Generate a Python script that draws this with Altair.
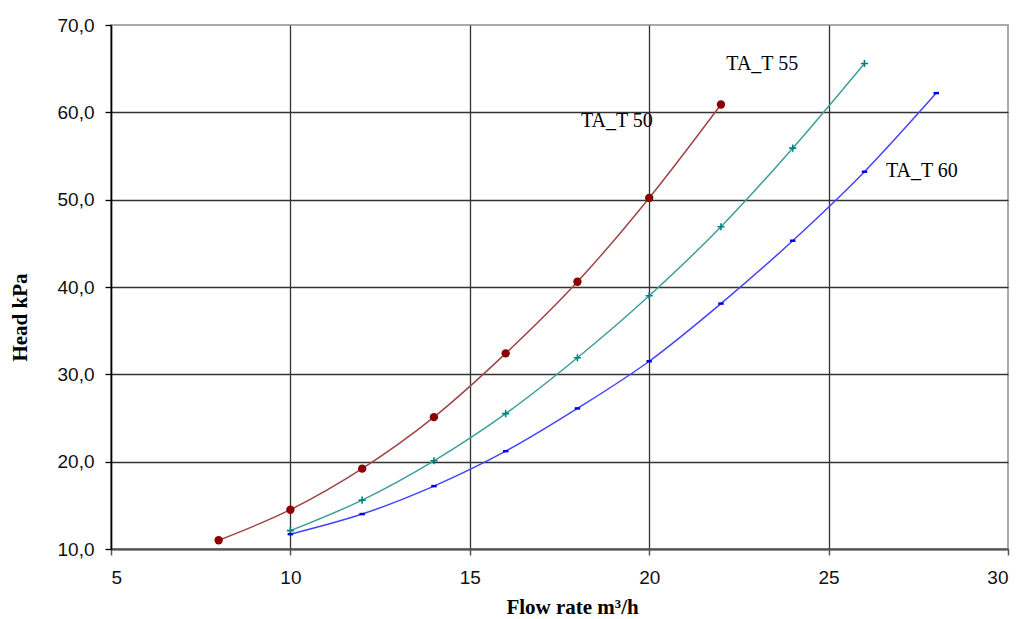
import altair as alt
import pandas as pd

flow_50 = [8, 10, 12, 14, 16, 18, 20, 22]
head_50 = [11.0, 14.5, 19.2, 25.1, 32.4, 40.6, 50.2, 60.9]

flow_55 = [10, 12, 14, 16, 18, 20, 22, 24, 26]
head_55 = [12.1, 15.6, 20.1, 25.5, 31.9, 39.0, 46.9, 55.9, 65.6]

flow_60 = [10, 12, 14, 16, 18, 20, 22, 24, 26, 28]
head_60 = [11.7, 14.0, 17.2, 21.2, 26.1, 31.5, 38.1, 45.3, 53.2, 62.2]

series_names = ["TA_T 50", "TA_T 55", "TA_T 60"]
label_x = [19.1, 23.15, 27.6]
label_y = [59.0, 65.5, 53.3]

line_colors = ["#A04545", "#3E9E9A", "#4444FF"]
marker_colors = ["#8B0000", "#008080", "#0000EE"]

x_scale = alt.Scale(domain=[5, 30], nice=False, zero=False)
y_scale = alt.Scale(domain=[10, 70], nice=False, zero=False)

x_axis = alt.Axis(
    values=[5, 10, 15, 20, 25, 30],
    title="Flow rate m³/h",
    titleFont="Liberation Serif", titleFontSize=21, titleFontWeight="bold",
    titleColor="#000", titleX=461, titleY=58, titleBaseline="middle",
    labelFont="Liberation Sans", labelFontSize=19, labelColor="#111",
    labelPadding=13, tickSize=6, tickColor="#555", tickWidth=1.5,
    domainColor="#555", domainWidth=2,
    grid=True, gridColor="#333", gridWidth=1.3,
    gridOpacity=alt.condition("datum.value == 30", alt.value(0), alt.value(1)),
)
y_axis = alt.Axis(
    values=[10, 20, 30, 40, 50, 60, 70],
    labelExpr="replace(format(datum.value, '.1f'), '.', ',')",
    title="Head kPa",
    titleFont="Liberation Serif", titleFontSize=21, titleFontWeight="bold",
    titleColor="#000", titleAngle=-90, titleX=-91, titleY=292,
    titleBaseline="middle", titleAlign="center",
    labelFont="Liberation Sans", labelFontSize=19, labelColor="#111",
    labelPadding=11, tickSize=6, tickColor="#000", tickWidth=1.3,
    domainColor="#000", domainWidth=1.5,
    grid=True, gridColor="#333", gridWidth=1.3,
    gridOpacity=alt.condition("datum.value == 70", alt.value(0), alt.value(1)),
)

frames = []
for name, xs, ys in [("TA_T 50", flow_50, head_50),
                     ("TA_T 55", flow_55, head_55),
                     ("TA_T 60", flow_60, head_60)]:
    frames.append(pd.DataFrame({"series": name, "flow": xs, "head": ys}))
df = pd.concat(frames, ignore_index=True)

color_line = alt.Scale(domain=series_names, range=line_colors)

base = alt.Chart(df).encode(
    x=alt.X("flow:Q", scale=x_scale, axis=x_axis),
    y=alt.Y("head:Q", scale=y_scale, axis=y_axis),
)

lines = base.mark_line(interpolate="monotone", strokeWidth=1.5).encode(
    color=alt.Color("series:N", scale=color_line, legend=None),
    detail="series:N",
)

pts50 = alt.Chart(df[df.series == "TA_T 50"]).mark_point(
    shape="circle", filled=True, size=70, color=marker_colors[0], opacity=1
).encode(x=alt.X("flow:Q", scale=x_scale), y=alt.Y("head:Q", scale=y_scale))

pts55 = alt.Chart(df[df.series == "TA_T 55"]).mark_point(
    shape="M-1,0L1,0M0,-1L0,1", filled=False, size=50, strokeWidth=1.6,
    color=marker_colors[1], opacity=1
).encode(x=alt.X("flow:Q", scale=x_scale), y=alt.Y("head:Q", scale=y_scale))

pts60 = alt.Chart(df[df.series == "TA_T 60"]).mark_point(
    shape="M-1,-0.45L1,-0.45L1,0.45L-1,0.45Z", filled=True, size=30,
    color=marker_colors[2], opacity=1
).encode(x=alt.X("flow:Q", scale=x_scale), y=alt.Y("head:Q", scale=y_scale))

labels_df = pd.DataFrame({"name": series_names, "lx": label_x, "ly": label_y})
labels = alt.Chart(labels_df).mark_text(
    font="Liberation Serif", fontSize=20, color="#000", align="center", baseline="middle"
).encode(
    x=alt.X("lx:Q", scale=x_scale),
    y=alt.Y("ly:Q", scale=y_scale),
    text="name:N",
)

chart = alt.layer(lines, pts50, pts55, pts60, labels).properties(
    width=897, height=524,
    autosize=alt.AutoSizeParams(type="none"),
    padding={"left": 111, "top": 25, "right": 15, "bottom": 70},
    background="white",
).configure_view(stroke="#AAAAAA", strokeWidth=2)

chart.save("out.html", embed_options={"renderer": "svg", "actions": False})
